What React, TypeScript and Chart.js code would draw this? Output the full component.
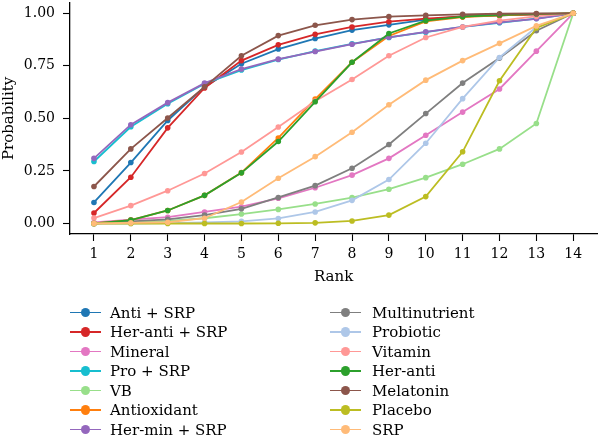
import React, { useEffect, useRef } from "react";
import { Chart, registerables } from "chart.js";

Chart.register(...registerables);

const ranks = [1, 2, 3, 4, 5, 6, 7, 8, 9, 10, 11, 12, 13, 14];
const yTickValues = [0, 0.25, 0.5, 0.75, 1.0];

const antiSRP = [0.10, 0.29, 0.49, 0.65, 0.76, 0.83, 0.88, 0.92, 0.945, 0.97, 0.985, 0.99, 0.995, 1.0];
const herAntiSRP = [0.05, 0.22, 0.455, 0.645, 0.775, 0.85, 0.90, 0.935, 0.96, 0.975, 0.985, 0.99, 0.995, 1.0];
const mineral = [0.005, 0.018, 0.03, 0.055, 0.08, 0.12, 0.17, 0.23, 0.31, 0.42, 0.53, 0.64, 0.82, 1.0];
const proSRP = [0.295, 0.46, 0.57, 0.665, 0.73, 0.78, 0.82, 0.855, 0.885, 0.91, 0.935, 0.955, 0.975, 1.0];
const vb = [0.0, 0.005, 0.012, 0.025, 0.045, 0.067, 0.093, 0.123, 0.163, 0.218, 0.282, 0.355, 0.476, 1.0];
const antioxidant = [0.0, 0.016, 0.062, 0.134, 0.242, 0.407, 0.592, 0.767, 0.892, 0.962, 0.982, 0.99, 0.996, 1.0];
const herMinSRP = [0.31, 0.47, 0.575, 0.668, 0.735, 0.782, 0.818, 0.853, 0.886, 0.912, 0.935, 0.957, 0.974, 1.0];
const multinutrient = [0.0, 0.01, 0.02, 0.04, 0.07, 0.124, 0.18, 0.263, 0.376, 0.523, 0.668, 0.787, 0.917, 1.0];
const probiotic = [0.0, 0.0, 0.002, 0.005, 0.01, 0.024, 0.055, 0.11, 0.209, 0.382, 0.594, 0.79, 0.935, 1.0];
const vitamin = [0.026, 0.085, 0.156, 0.238, 0.34, 0.459, 0.582, 0.685, 0.798, 0.885, 0.935, 0.965, 0.985, 1.0];
const herAnti = [0.0, 0.016, 0.062, 0.134, 0.241, 0.39, 0.579, 0.767, 0.904, 0.965, 0.984, 0.992, 0.997, 1.0];
const melatonin = [0.176, 0.355, 0.502, 0.65, 0.798, 0.894, 0.943, 0.97, 0.984, 0.99, 0.995, 0.998, 0.999, 1.0];
const placebo = [0.0, 0.0, 0.0, 0.0, 0.0, 0.001, 0.003, 0.012, 0.04, 0.128, 0.341, 0.679, 0.93, 1.0];
const srp = [0.0, 0.003, 0.006, 0.025, 0.102, 0.215, 0.318, 0.434, 0.565, 0.682, 0.775, 0.857, 0.94, 1.0];

const seriesNames = [
  "Anti + SRP", "Her-anti + SRP", "Mineral", "Pro + SRP", "VB", "Antioxidant", "Her-min + SRP",
  "Multinutrient", "Probiotic", "Vitamin", "Her-anti", "Melatonin", "Placebo", "SRP",
];
const seriesValues = [
  antiSRP, herAntiSRP, mineral, proSRP, vb, antioxidant, herMinSRP,
  multinutrient, probiotic, vitamin, herAnti, melatonin, placebo, srp,
];
const seriesColors = [
  "#1f77b4", "#d62728", "#e377c2", "#17becf", "#98df8a", "#ff7f0e", "#9467bd",
  "#7f7f7f", "#aec7e8", "#ff9896", "#2ca02c", "#8c564b", "#bcbd22", "#ffbb78",
];

const FONT = "'DejaVu Serif', serif";

export default function App() {
  const ref = useRef<HTMLCanvasElement>(null);

  useEffect(() => {
    if (!ref.current) return;
    const datasets = seriesNames.map((name, i) => ({
      label: name,
      data: ranks.map((r, j) => ({ x: r, y: seriesValues[i][j] })),
      borderColor: seriesColors[i],
      backgroundColor: seriesColors[i],
      pointBackgroundColor: seriesColors[i],
      borderWidth: 1.8,
      pointRadius: 2.8,
      pointHoverRadius: 2.8,
      pointBorderWidth: 0,
      tension: 0,
      order: seriesNames.length - i,
      clip: false as any,
    }));
    const axisCommon = {
      grid: { drawOnChartArea: false, drawTicks: true, tickLength: 7, tickColor: "#000", tickWidth: 1.1 },
      border: { display: true, color: "#000", width: 1.3 },
    };
    const chart = new Chart(ref.current, {
      type: "line",
      data: { datasets },
      options: {
        responsive: false,
        animation: false,
        layout: { padding: { left: 0, right: 1, top: 0, bottom: 151 } },
        plugins: { legend: { display: false }, tooltip: { enabled: false } },
        scales: {
          x: {
            type: "linear",
            min: 0.35,
            max: 14.65,
            afterBuildTicks: (axis: any) => {
              axis.ticks = ranks.map((v) => ({ value: v }));
            },
            afterFit: (axis: any) => {
              axis.height = 52;
              axis.paddingLeft = 0;
              axis.paddingRight = 0;
            },
            ...axisCommon,
            ticks: {
              color: "#000",
              font: { family: FONT, size: 14 },
              padding: 5,
              autoSkip: false,
              maxRotation: 0,
              callback: (v: any) => String(v),
            },
            title: { display: true, text: "Rank", color: "#000", font: { family: FONT, size: 15 }, padding: 0 },
          },
          y: {
            type: "linear",
            min: -0.05,
            max: 1.05,
            afterBuildTicks: (axis: any) => {
              axis.ticks = yTickValues.map((v) => ({ value: v }));
            },
            afterFit: (axis: any) => {
              axis.width = 70;
              axis.paddingTop = 0;
              axis.paddingBottom = 0;
            },
            ...axisCommon,
            ticks: {
              color: "#000",
              font: { family: FONT, size: 14 },
              padding: 8,
              callback: (v: any) => Number(v).toFixed(2),
            },
            title: {
              display: true,
              text: "Probability",
              color: "#000",
              font: { family: FONT, size: 15 },
              padding: { top: 0, bottom: 0 },
            },
          },
        },
      } as any,
    });
    return () => chart.destroy();
  }, []);

  const colLine = [70, 330];
  const colText = [110, 372];
  return (
    <div style={{ position: "fixed", left: 0, top: 0, width: 600, height: 437, background: "#fff", overflow: "hidden" }}>
      <canvas ref={ref} width={600} height={437} style={{ position: "absolute", left: 0, top: 0, width: 600, height: 437 }} />
      {seriesNames.map((name, i) => {
        const col = Math.floor(i / 7);
        const row = i % 7;
        const cy = 312.5 + row * 19.5;
        const color = seriesColors[i];
        return (
          <React.Fragment key={name}>
            <div style={{ position: "absolute", left: colLine[col], top: cy - 0.8, width: 31, height: 1.6, background: color }} />
            <div
              style={{
                position: "absolute",
                left: colLine[col] + 15.5 - 4.8,
                top: cy - 4.8,
                width: 9.6,
                height: 9.6,
                borderRadius: "50%",
                background: color,
              }}
            />
            <div
              style={{
                position: "absolute",
                left: colText[col],
                top: cy - 10,
                height: 20,
                lineHeight: "20px",
                fontFamily: FONT,
                fontSize: 15,
                color: "#000",
                whiteSpace: "nowrap",
              }}
            >
              {name}
            </div>
          </React.Fragment>
        );
      })}
    </div>
  );
}
